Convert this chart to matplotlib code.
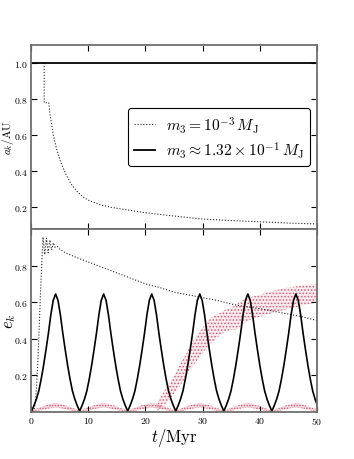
import numpy as np
import matplotlib
matplotlib.use("Agg")
import matplotlib.pyplot as plt

plt.rcParams['font.family'] = 'serif'
plt.rcParams['font.serif'] = ['cmr10', 'DejaVu Serif']
plt.rcParams['mathtext.fontset'] = 'cm'
plt.rcParams['axes.formatter.use_mathtext'] = True
plt.rcParams['hatch.linewidth'] = 0.7

# ---------------- data ----------------
# top panel: semi-major axis
t_a_small = [2.3, 2.3, 3.1, 3.3, 3.6, 3.9, 4.5, 5.2, 6.0, 7.0, 8.0, 9.0, 10.0, 12.0, 14.0,
             17.0, 20.0, 25.0, 30.0, 35.0, 40.0, 45.0, 50.0]
a_small = [1.0, 0.78, 0.78, 0.72, 0.66, 0.60, 0.52, 0.45, 0.39, 0.33, 0.29, 0.26, 0.24, 0.215, 0.20,
           0.185, 0.17, 0.152, 0.135, 0.127, 0.12, 0.113, 0.108]
t_a_big = [0.0, 50.0]
a_big = [1.0, 1.0]

# bottom panel: eccentricity, m3 = 1e-3 (black dotted)
t_e_small = [0.5, 0.8, 1.0, 1.2, 1.45, 1.65, 1.85, 2.1, 2.4, 2.7, 3.0, 3.3, 3.6, 3.9, 4.2, 4.6,
             5.0, 6.0, 7.5, 10.0, 12.5, 15.0, 17.5, 20.0, 22.5, 25.0, 27.5, 30.0, 32.5, 35.0,
             37.5, 40.0, 42.5, 45.0, 47.5, 50.0]
e_small = [0.0, 0.07, 0.155, 0.28, 0.48, 0.64, 0.79, 0.956, 0.86, 0.95, 0.87, 0.94, 0.885, 0.925,
           0.90, 0.905, 0.89, 0.87, 0.85, 0.82, 0.79, 0.76, 0.73, 0.70, 0.68, 0.655, 0.64, 0.625,
           0.61, 0.59, 0.575, 0.565, 0.55, 0.535, 0.52, 0.50]

# bottom panel: eccentricity, m3 ~ 0.132 (black solid), sampled every 0.42 Myr from t = 0.1
e_big = [
    0.005, 0.035, 0.07, 0.115, 0.18, 0.255, 0.34, 0.43, 0.53, 0.61, 0.645, 0.61, 0.53, 0.43, 0.34, 0.255, 0.18, 0.115, 0.07, 0.035,
    0.005, 0.035, 0.07, 0.115, 0.18, 0.255, 0.34, 0.43, 0.53, 0.61, 0.645, 0.61, 0.53, 0.43, 0.34, 0.255, 0.18, 0.115, 0.07, 0.035,
    0.005, 0.035, 0.07, 0.115, 0.18, 0.255, 0.34, 0.43, 0.53, 0.61, 0.645, 0.61, 0.53, 0.43, 0.34, 0.255, 0.18, 0.115, 0.07, 0.035,
    0.005, 0.035, 0.07, 0.115, 0.18, 0.255, 0.34, 0.43, 0.53, 0.61, 0.645, 0.61, 0.53, 0.43, 0.34, 0.255, 0.18, 0.115, 0.07, 0.035,
    0.005, 0.035, 0.07, 0.115, 0.18, 0.255, 0.34, 0.43, 0.53, 0.61, 0.645, 0.61, 0.53, 0.43, 0.34, 0.255, 0.18, 0.115, 0.07, 0.035,
    0.005, 0.035, 0.07, 0.115, 0.18, 0.255, 0.34, 0.43, 0.53, 0.61, 0.645, 0.61, 0.53, 0.43, 0.34, 0.255, 0.18, 0.115, 0.07, 0.035,
]
t_e_big = 0.1 + 0.42 * np.arange(len(e_big))

# red band: inner body, m3 = 1e-3 case (growing band)
t_red_grow = [22, 23, 24, 25, 26, 27, 28, 29, 30, 31, 32, 33, 34, 35, 36, 37, 38, 40, 42, 44, 46, 48, 50]
red_grow_hi = [0.04, 0.10, 0.15, 0.20, 0.26, 0.31, 0.37, 0.42, 0.46, 0.50, 0.53, 0.54, 0.56, 0.57, 0.59,
               0.61, 0.625, 0.64, 0.66, 0.675, 0.685, 0.695, 0.70]
red_grow_lo = [0.005, 0.03, 0.06, 0.10, 0.14, 0.19, 0.24, 0.28, 0.32, 0.36, 0.39, 0.42, 0.44, 0.45, 0.45,
               0.48, 0.50, 0.52, 0.54, 0.555, 0.57, 0.585, 0.60]

# red band: inner body, m3 ~ 0.132 case (small humps), sampled every 1.05 Myr from t = 0.1
red_low_hi = [0.010, 0.020, 0.032, 0.043, 0.048, 0.043, 0.032, 0.020] * 6 + [0.012]
red_low_lo = [0.000, 0.004, 0.012, 0.020, 0.024, 0.020, 0.012, 0.004] * 6 + [0.001]
t_red_low = 0.1 + 1.05 * np.arange(len(red_low_hi))

RED = '#d0607a'
SPINE = '#707070'

fig = plt.figure(figsize=(3.54, 4.6), dpi=100)
ax1 = fig.add_axes([0.0876, 0.5, 0.808, 0.4])
ax2 = fig.add_axes([0.0876, 0.1022, 0.808, 0.3978], sharex=ax1)

# --- top panel ---
ax1.plot(t_a_small, a_small, color='#222222', ls=':', lw=0.8, label=r'$m_3 = 10^{-3}\,M_{\rm J}$')
ax1.plot(t_a_big, a_big, color='black', ls='-', lw=1.3, label=r'$m_3 \approx 1.32\times10^{-1}\,M_{\rm J}$')
ax1.set_ylim(0.08, 1.1)
ax1.set_yticks([0.2, 0.4, 0.6, 0.8, 1.0])
ax1.set_ylabel(r'$a_k/\mathrm{AU}$', fontsize=8)
ax1.yaxis.set_label_coords(-0.054, 0.5)
leg = ax1.legend(loc='center right', bbox_to_anchor=(0.975, 0.5), borderaxespad=0,
                 fontsize=11.2, frameon=True, fancybox=True, framealpha=1, handlelength=1.4,
                 edgecolor='black', borderpad=0.35, labelspacing=0.3, handletextpad=0.7)
leg.get_frame().set_linewidth(0.8)
plt.setp(ax1.get_xticklabels(), visible=False)

# --- bottom panel ---
ax2.fill_between(t_red_low, red_low_lo, red_low_hi, facecolor=(0.86, 0.5, 0.6, 0.3),
                 edgecolor=RED, hatch='......', linewidth=0)
ax2.fill_between(t_red_grow, red_grow_lo, red_grow_hi, facecolor=(0.9, 0.6, 0.67, 0.2),
                 edgecolor=RED, hatch='.....', linewidth=0)
ax2.plot(t_e_small, e_small, color='#222222', ls=':', lw=0.8)
ax2.plot(t_e_big, e_big, color='black', ls='-', lw=1.2)
ax2.set_ylim(0, 1.0)
ax2.set_xlim(0, 50)
ax2.set_yticks([0.2, 0.4, 0.6, 0.8])
ax2.set_xticks([0, 10, 20, 30, 40, 50])
ax2.set_ylabel(r'$e_k$', fontsize=12)
ax2.yaxis.set_label_coords(-0.045, 0.5)
ax2.set_xlabel(r'$t/\mathrm{Myr}$', fontsize=12, labelpad=0)

for ax in (ax1, ax2):
    ax.tick_params(direction='in', top=True, right=True, length=4, width=0.8,
                   colors='black', labelsize=7, pad=2)
    for sp in ax.spines.values():
        sp.set_color(SPINE)
        sp.set_linewidth(1.3)

fig.savefig('out.png', dpi=100)
